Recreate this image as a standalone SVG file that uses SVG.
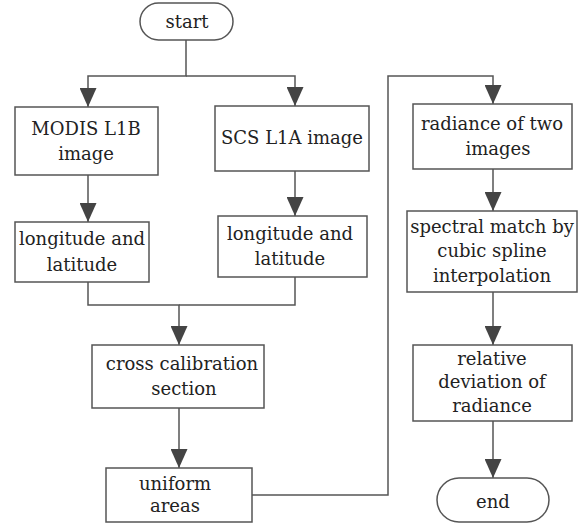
<svg xmlns="http://www.w3.org/2000/svg" width="584" height="523" viewBox="0 0 584 523">
<style>
.box{fill:#fff;stroke:#555;stroke-width:1.5}
.ln{fill:none;stroke:#555;stroke-width:1.5;marker-end:url(#ah)}
.ln2{fill:none;stroke:#555;stroke-width:1.5}
text{font-family:"DejaVu Serif","Liberation Serif",serif;font-size:18px;fill:#222;text-anchor:middle}
</style>
<defs>
<marker id="ah" markerUnits="userSpaceOnUse" markerWidth="19" markerHeight="17" refX="19" refY="8.5" orient="auto">
<path d="M0,0 L19,8.5 L0,17 z" fill="#444"/>
</marker>
</defs>
<rect width="584" height="523" fill="#fff"/>
<g id="connectors">
<path class="ln" d="M186,40 V76 H88 V107"/>
<path class="ln" d="M186,76 H295 V106"/>
<path class="ln" d="M88,175 V222"/>
<path class="ln" d="M295,171 V216"/>
<path class="ln" d="M88,282 V305 H179 V345"/>
<path class="ln2" d="M295,277 V305 H179"/>
<path class="ln" d="M179,408 V468"/>
<path class="ln" d="M252,495 H388 V76 H493 V104"/>
<path class="ln" d="M493,169 V211"/>
<path class="ln" d="M493,292 V345"/>
<path class="ln" d="M493,421 V478"/>
</g>
<g id="start"><rect class="box" x="140" y="3" width="93" height="37" rx="18.5"/><text x="187" y="28">start</text></g>
<g id="modis"><rect class="box" x="15" y="107" width="143" height="68"/><text x="86" y="135">MODIS L1B</text><text x="86" y="160">image</text></g>
<g id="scs"><rect class="box" x="215" y="106" width="154" height="65"/><text x="292" y="144">SCS L1A image</text></g>
<g id="lonlat1"><rect class="box" x="15" y="222" width="134" height="60"/><text x="82" y="245">longitude and</text><text x="82" y="271">latitude</text></g>
<g id="lonlat2"><rect class="box" x="218" y="216" width="149" height="61"/><text x="290" y="240">longitude and</text><text x="290" y="265">latitude</text></g>
<g id="cross"><rect class="box" x="92" y="345" width="172" height="63"/><text x="182" y="370">cross calibration</text><text x="184" y="395">section</text></g>
<g id="uniform"><rect class="box" x="106" y="468" width="146" height="54"/><text x="175" y="490">uniform</text><text x="175" y="512">areas</text></g>
<g id="radiance"><rect class="box" x="413" y="104" width="159" height="65"/><text x="492" y="130">radiance of two</text><text x="498" y="155">images</text></g>
<g id="spectral"><rect class="box" x="407" y="211" width="170" height="81"/><text x="492" y="233">spectral match by</text><text x="492" y="257">cubic spline</text><text x="492" y="282">interpolation</text></g>
<g id="relative"><rect class="box" x="413" y="345" width="159" height="76"/><text x="492" y="365">relative</text><text x="492" y="388">deviation of</text><text x="492" y="412">radiance</text></g>
<g id="end"><rect class="box" x="437" y="478" width="112" height="44" rx="22"/><text x="493" y="508">end</text></g>
</svg>
